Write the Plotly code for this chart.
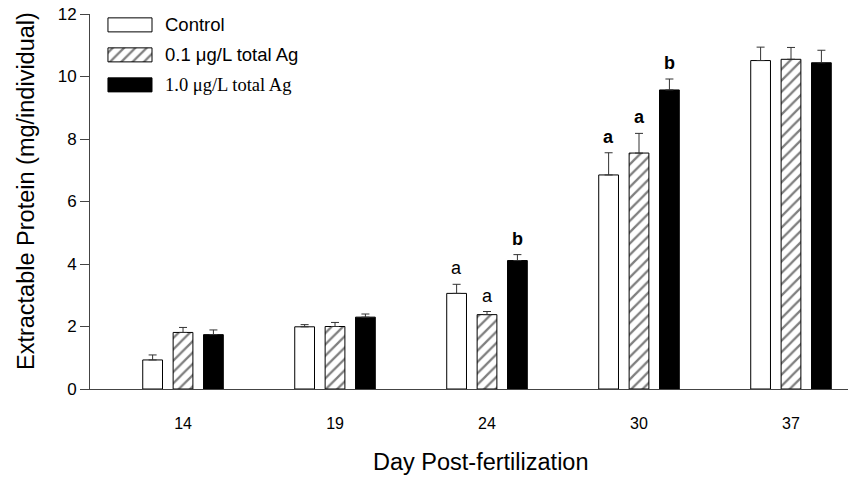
import plotly.graph_objects as go

days = ["14", "19", "24", "30", "37"]
series_names = ["Control", "0.1 μg/L total Ag", "1.0 μg/L total Ag"]
control = [0.93, 1.99, 3.06, 6.85, 10.51]
control_err = [0.16, 0.07, 0.29, 0.71, 0.43]
ag01 = [1.81, 2.00, 2.38, 7.55, 10.55]
ag01_err = [0.16, 0.13, 0.10, 0.63, 0.38]
ag10 = [1.74, 2.30, 4.11, 9.57, 10.44]
ag10_err = [0.15, 0.10, 0.19, 0.35, 0.40]

# significance letters: (day index, series index, letter, bold)
letters = [(2, 0, "a", False), (2, 1, "a", False), (2, 2, "b", True),
           (3, 0, "a", True), (3, 1, "a", True), (3, 2, "b", True)]

x = list(range(len(days)))
offsets = [-0.265, -0.065, 0.135]
bw = 0.13

hatch = dict(shape="/", fgcolor="black", bgcolor="white", size=8, solidity=0.28)

fig = go.Figure()
vals = [control, ag01, ag10]
errs = [control_err, ag01_err, ag10_err]
styles = [
    dict(color="white", pattern=dict(shape="")),
    dict(color="white", pattern=hatch),
    dict(color="black", pattern=dict(shape="")),
]
for i in range(3):
    fig.add_trace(go.Bar(
        x=x, y=vals[i], width=bw, offset=offsets[i], name=series_names[i],
        marker=dict(color=styles[i]["color"], pattern=styles[i]["pattern"],
                    line=dict(color="black", width=1)),
        error_y=dict(type="data", array=errs[i], arrayminus=[0]*len(x), symmetric=False,
                     thickness=1, width=4, color="#333"),
        showlegend=False,
    ))

for (di, si, letter, bold) in letters:
    top = vals[si][di] + errs[si][di]
    fig.add_annotation(
        x=di + offsets[si] + bw/2, y=top, xref="x", yref="y",
        text=f"<b>{letter}</b>" if bold else letter, showarrow=False,
        yanchor="bottom", yshift=4,
        font=dict(family="Liberation Sans, Arial", size=18, color="black"),
    )

# custom legend on overlay axes (fraction of plot area)
leg_rows = [0.971, 0.891, 0.811]
x0, x1, h = 0.0237, 0.0818, 0.0187
leg_fonts = ["Liberation Sans, Arial", "Liberation Sans, Arial", "Liberation Serif, Times New Roman"]
for i in range(3):
    yc = leg_rows[i]
    fig.add_trace(go.Scatter(
        x=[x0, x1, x1, x0, x0], y=[yc - h, yc - h, yc + h, yc + h, yc - h],
        xaxis="x2", yaxis="y2", mode="lines", fill="toself",
        fillcolor=styles[i]["color"],
        fillpattern=hatch if i == 1 else None,
        line=dict(color="black", width=1), showlegend=False, hoverinfo="skip",
    ))
    fig.add_annotation(
        x=0.0963, y=yc, xref="x2", yref="y2", text=series_names[i], showarrow=False,
        xanchor="left", yanchor="middle",
        font=dict(family=leg_fonts[i], size=18.5, color="black"),
    )

# axis titles
fig.add_annotation(
    x=-0.0844, y=0.528, xref="paper", yref="paper", text="Extractable Protein (mg/individual)",
    textangle=-90, showarrow=False, xanchor="center", yanchor="middle",
    font=dict(family="Liberation Sans, Arial", size=23.5, color="black"),
)
fig.add_annotation(
    x=0.516, y=-0.1947, xref="paper", yref="paper", text="Day Post-fertilization",
    showarrow=False, xanchor="center", yanchor="middle",
    font=dict(family="Liberation Sans, Arial", size=23.5, color="black"),
)

fig.update_layout(
    width=850, height=477,
    margin=dict(l=90, r=2, t=14, b=88),
    paper_bgcolor="white", plot_bgcolor="white",
    barmode="overlay",
    xaxis=dict(
        range=[-0.612, 4.375], tickmode="array", tickvals=x, ticktext=days,
        showgrid=False, zeroline=False, showline=True, linecolor="#444", linewidth=1,
        ticks="", ticklabelstandoff=20,
        tickfont=dict(family="Liberation Sans, Arial", size=16, color="black"),
    ),
    yaxis=dict(
        range=[0, 12], tickvals=[0, 2, 4, 6, 8, 10, 12],
        showgrid=False, zeroline=False, showline=True, linecolor="#444", linewidth=1,
        ticks="outside", ticklen=9, tickcolor="#444",
        tickfont=dict(family="Liberation Sans, Arial", size=17, color="black"),
    ),
    xaxis2=dict(overlaying="x", range=[0, 1], visible=False, domain=[0, 1]),
    yaxis2=dict(overlaying="y", range=[0, 1], visible=False),
)

fig.write_html("out.html")
